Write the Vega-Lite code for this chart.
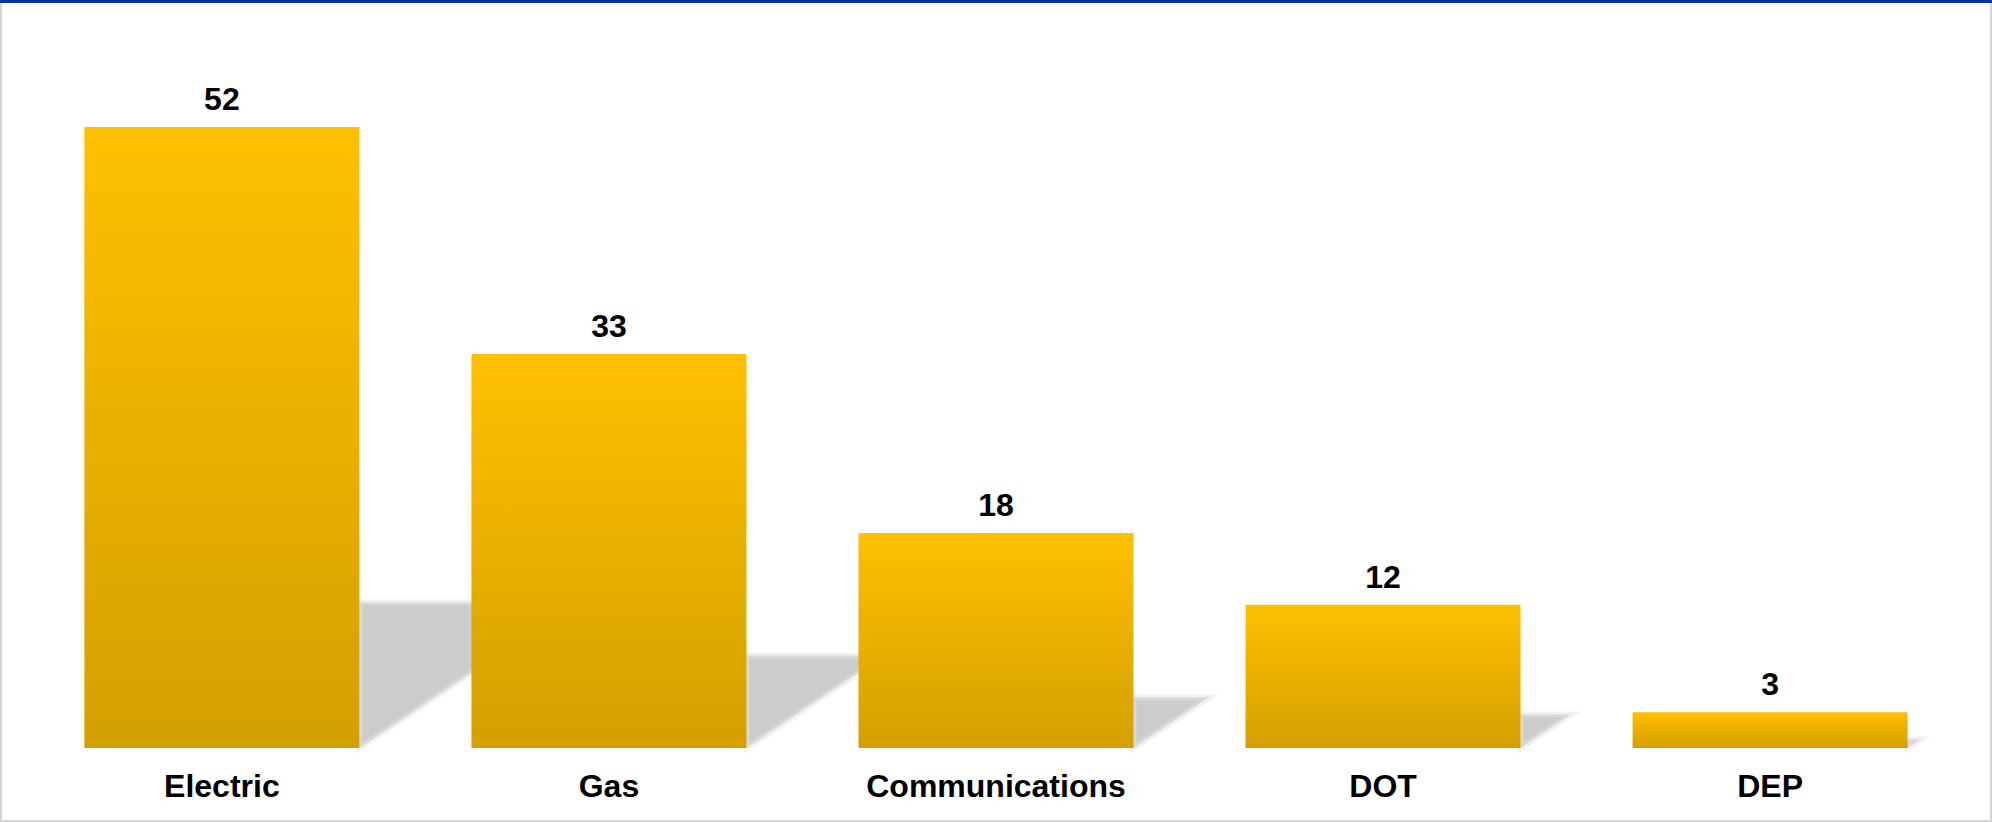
{
  "$schema": "https://vega.github.io/schema/vega-lite/v6.json",
  "width": 1992,
  "height": 822,
  "autosize": {"type": "none"},
  "padding": 0,
  "background": "white",
  "config": {
    "view": {"stroke": "#d4d4d4", "strokeWidth": 4},
    "font": "Liberation Sans"
  },
  "data": {
    "values": [
      {"category": "Electric", "value": 52},
      {"category": "Gas", "value": 33},
      {"category": "Communications", "value": 18},
      {"category": "DOT", "value": 12},
      {"category": "DEP", "value": 3}
    ]
  },
  "encoding": {
    "x": {
      "field": "category",
      "type": "nominal",
      "sort": null,
      "axis": null,
      "scale": {"paddingInner": 0.2894, "paddingOuter": 0.218}
    }
  },
  "layer": [
    {
      "mark": {
        "type": "point",
        "shape": "M0,0L0,-1L1.49,-1Z",
        "filled": true,
        "fill": "#cccccc",
        "opacity": 1,
        "stroke": "#e4e4e4",
        "strokeWidth": 6,
        "strokeOpacity": 0.5,
        "xOffset": 137.5
      },
      "encoding": {
        "y": {"datum": 0, "type": "quantitative", "axis": null, "scale": {"domain": [-6.197, 62.637], "nice": false, "zero": false}},
        "size": {"field": "value", "type": "quantitative", "legend": null, "scale": {"type": "pow", "exponent": 2, "domain": [0, 52], "range": [0, 84797]}}
      }
    },
    {
      "mark": {
        "type": "bar",
        "width": {"band": 1},
        "fill": {
          "gradient": "linear",
          "x1": 0, "y1": 0, "x2": 0, "y2": 1,
          "stops": [
            {"offset": 0, "color": "#ffc000"},
            {"offset": 1, "color": "#d4a000"}
          ]
        }
      },
      "encoding": {
        "y": {"field": "value", "type": "quantitative", "axis": null, "scale": {"domain": [-6.197, 62.637], "nice": false, "zero": false}},
        "y2": {"datum": 0}
      }
    },
    {
      "mark": {"type": "text", "font": "Liberation Sans", "fontWeight": "bold", "fontSize": 32, "baseline": "alphabetic", "dy": -17, "color": "#000000"},
      "encoding": {
        "y": {"field": "value", "type": "quantitative", "axis": null},
        "text": {"field": "value", "type": "quantitative"}
      }
    },
    {
      "mark": {"type": "text", "font": "Liberation Sans", "fontWeight": "bold", "fontSize": 32, "baseline": "alphabetic", "dy": 49, "color": "#000000"},
      "encoding": {
        "y": {"datum": 0, "type": "quantitative", "axis": null},
        "text": {"field": "category", "type": "nominal"}
      }
    },
    {
      "mark": {"type": "rule", "color": "#0b2f9c", "strokeWidth": 5},
      "encoding": {
        "x": null,
        "y": {"datum": 62.637, "type": "quantitative", "axis": null}
      }
    }
  ]
}
